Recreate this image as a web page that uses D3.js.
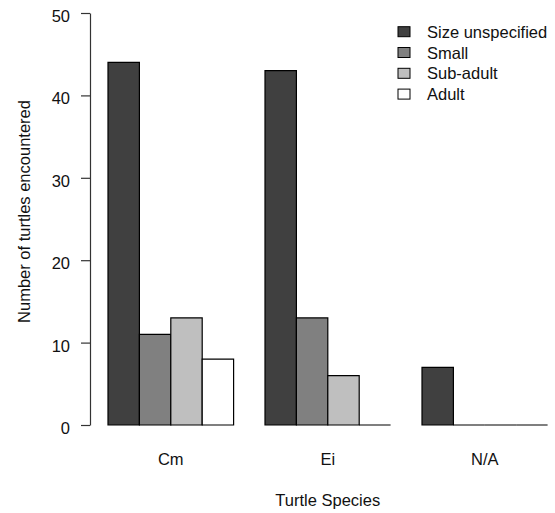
<!DOCTYPE html>
<html>
<head>
<meta charset="utf-8">
<script src="https://cdn.jsdelivr.net/npm/d3@7"></script>
<style>
    body { margin: 0; background: #fff; }
    text { font-family: "Liberation Sans", Arial, sans-serif; }
</style>
</head>
<body>
<div class="container"></div>
<script>
// turtle counts by species, split by size class
const species = ['Cm', 'Ei', 'N/A'];
const sizes = ['Size unspecified', 'Small', 'Sub-adult', 'Adult'];
const sizeUnspecified = [44, 43, 7];
const small = [11, 13, 0];
const subAdult = [13, 6, 0];
const adult = [8, 0, 0];
const yTicks = [0, 10, 20, 30, 40, 50];

const colors = ['#404040', '#808080', '#bfbfbf', '#ffffff'];
const width = 555;
const height = 513;
const fontSize = 16.5;

const series = [sizeUnspecified, small, subAdult, adult];

const svg = d3.select('.container')
    .append('svg')
    .attr('width', width)
    .attr('height', height);

// barplot units: each group is 4 bars wide with one unit of space before it
const xscale = d3.scaleLinear().domain([1, 15]).range([108, 547.6]);
const yscale = d3.scaleLinear().domain([0, 50]).range([425, 13]);

const bars = [];
species.forEach((s, i) => {
    sizes.forEach((size, j) => {
        bars.push({ species: s, size: j, value: series[j][i], x: 1 + i * 5 + j });
    });
});

svg.selectAll('.bar')
    .data(bars)
    .enter()
    .append('path')
    .attr('class', 'bar')
    .attr('d', d => {
        const x0 = xscale(d.x), x1 = xscale(d.x + 1);
        const y0 = yscale(0), y1 = yscale(d.value);
        return `M${x0},${y0}H${x1}V${y1}H${x0}Z`;
    })
    .attr('fill', d => colors[d.size])
    .attr('stroke', '#000')
    .attr('stroke-width', 1.2);

// y axis
const yAxis = svg.append('g')
    .attr('transform', 'translate(90,0)')
    .call(d3.axisLeft(yscale).tickValues(yTicks).tickSizeInner(9).tickSizeOuter(0).tickPadding(11));
yAxis.select('.domain').attr('stroke', '#333').attr('stroke-width', 1.2);
yAxis.selectAll('line').attr('stroke', '#333').attr('stroke-width', 1.2);
yAxis.selectAll('text')
    .attr('font-size', fontSize)
    .attr('dy', '0.52em')
    .attr('fill', '#111')
    .attr('font-family', '"Liberation Sans", Arial, sans-serif');

// category labels
svg.selectAll('.cat')
    .data(species)
    .enter()
    .append('text')
    .attr('class', 'cat')
    .attr('x', (d, i) => xscale(1 + i * 5 + 2))
    .attr('y', 465)
    .attr('text-anchor', 'middle')
    .attr('font-size', fontSize)
    .attr('fill', '#111')
    .text(d => d);

svg.append('text')
    .attr('x', xscale(8))
    .attr('y', 506)
    .attr('text-anchor', 'middle')
    .attr('font-size', fontSize)
    .attr('fill', '#111')
    .text('Turtle Species');

svg.append('text')
    .attr('transform', 'translate(30,211.5) rotate(-90)')
    .attr('text-anchor', 'middle')
    .attr('font-size', fontSize)
    .attr('fill', '#111')
    .text('Number of turtles encountered');

// legend
const legend = svg.selectAll('.legend')
    .data(sizes)
    .enter()
    .append('g')
    .attr('class', 'legend')
    .attr('transform', (d, i) => `translate(398,${31.7 + i * 20.8})`);

legend.append('rect')
    .attr('x', 0)
    .attr('y', -5)
    .attr('width', 12)
    .attr('height', 10)
    .attr('fill', (d, i) => colors[i])
    .attr('stroke', '#000')
    .attr('stroke-width', 1);

legend.append('text')
    .attr('x', 29)
    .attr('y', 6)
    .attr('font-size', fontSize)
    .attr('fill', '#111')
    .text(d => d);
</script>
</body>
</html>
